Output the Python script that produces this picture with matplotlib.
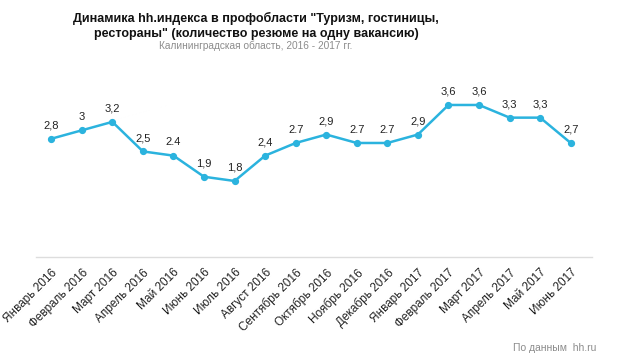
import matplotlib; matplotlib.use("Agg")
import matplotlib.pyplot as plt

plt.rcParams["font.family"] = ["Liberation Sans", "DejaVu Sans"]

months = ["Январь 2016", "Февраль 2016", "Март 2016", "Апрель 2016", "Май 2016",
          "Июнь 2016", "Июль 2016", "Август 2016", "Сентябрь 2016", "Октябрь 2016",
          "Ноябрь 2016", "Декабрь 2016", "Январь 2017", "Февраль 2017", "Март 2017",
          "Апрель 2017", "Май 2017", "Июнь 2017"]
values = [2.8, 3.0, 3.2, 2.5, 2.4, 1.9, 1.8, 2.4, 2.7, 2.9, 2.7, 2.7, 2.9, 3.6, 3.6, 3.3, 3.3, 2.7]
labels = ["2,8", "3", "3,2", "2,5", "2.4", "1,9", "1,8", "2,4", "2.7", "2,9", "2.7", "2.7",
          "2,9", "3,6", "3,6", "3,3", "3,3", "2,7"]

LINE = "#2bb3de"
GRAY = "#8c8c8c"

fig = plt.figure(figsize=(6.2, 3.64), dpi=100)
ax = fig.add_axes([0.058, 0.294, 0.897, 0.464])
x = list(range(len(values)))
ax.plot(x, values, color=LINE, lw=1.8, marker="o", ms=4.2, zorder=3)
for xi, v, t in zip(x, values, labels):
    ax.annotate(t, (xi, v), xytext=(0, 6), textcoords="offset points",
                ha="center", va="bottom", fontsize=8, color="#222222")

ax.set_ylim(0, 4)
ax.set_xlim(-0.5, len(values) - 0.3)
ax.set_yticks([])
ax.set_xticks(x)
ax.set_xticklabels(months, rotation=45, ha="right", rotation_mode="anchor",
                   fontsize=8.5, color="#222222")
ax.tick_params(axis="x", length=0, pad=7)
for s in ["top", "right", "left"]:
    ax.spines[s].set_visible(False)
ax.spines["bottom"].set_color("#dddddd")
ax.spines["bottom"].set_linewidth(1)

fig.text(0.413, 0.968, "Динамика hh.индекса в профобласти \"Туризм, гостиницы,\nрестораны\" (количество резюме на одну вакансию)",
         ha="center", va="top", fontsize=9, fontweight="bold", color="#111111", linespacing=1.4)
fig.text(0.413, 0.888, "Калининградская область, 2016 - 2017 гг.", ha="center", va="top",
         fontsize=7.3, color=GRAY)
fig.text(0.962, 0.03, "По данным  hh.ru", ha="right", va="bottom", fontsize=7.5, color=GRAY)

fig.savefig("out.png", dpi=100, facecolor="white")
